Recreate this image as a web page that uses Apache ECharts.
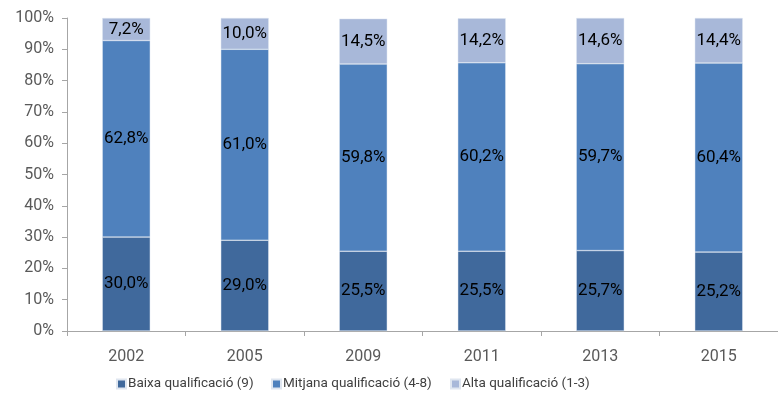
<!DOCTYPE html>
<html>
<head>
<meta charset="utf-8">
<script src="https://cdn.jsdelivr.net/npm/echarts@6/dist/echarts.min.js"></script>
<style>
  html, body { margin: 0; padding: 0; background: #fff; }
  #chart { width: 778px; height: 403px; }
</style>
</head>
<body>
<div id="chart"></div>
<script>
const years = ['2002', '2005', '2009', '2011', '2013', '2015']
const baixa = [30.0, 29.0, 25.5, 25.5, 25.7, 25.2]
const mitjana = [62.8, 61.0, 59.8, 60.2, 59.7, 60.4]
const alta = [7.2, 10.0, 14.5, 14.2, 14.6, 14.4]
const seriesNames = ['Baixa qualificació (9)', 'Mitjana qualificació (4-8)', 'Alta qualificació (1-3)']

const colors = {
  baixa: '#40699c',
  mitjana: '#4f81bd',
  alta: '#a8b8d9',
  axis: '#a6a6a6',
  text: '#595959'
}

const fmt = (p) => p.value.toFixed(1).replace('.', ',') + '%'

const makeSeries = (name, data, color) => ({
  name,
  type: 'bar',
  stack: 'total',
  barWidth: 48,
  data,
  itemStyle: { color, borderColor: '#dfe6f0', borderWidth: 0.5 },
  label: {
    show: true,
    position: 'inside',
    color: '#000',
    fontFamily: 'Roboto',
    fontSize: 17,
    formatter: fmt
  }
})

// one legend per entry so the spacing can follow the original
const legendLeft = [111, 266, 445]
const legends = seriesNames.map((name, i) => ({
  data: [name],
  top: 372,
  left: legendLeft[i],
  itemWidth: 9,
  itemHeight: 9,
  icon: 'rect',
  textStyle: { color: '#404040', fontFamily: 'Roboto', fontSize: 13.5, padding: [0, 0, 0, -3] }
}))

const chart = echarts.init(document.getElementById('chart'))
chart.setOption({
  animation: false,
  // the category axis runs past the right edge in the original
  grid: { left: 67, right: -9, top: 18, bottom: 72, containLabel: false },
  legend: legends,
  xAxis: {
    type: 'category',
    data: years,
    axisLine: { lineStyle: { color: colors.axis } },
    axisTick: { show: true, alignWithLabel: false, length: 5, lineStyle: { color: colors.axis } },
    axisLabel: { color: colors.text, fontFamily: 'Roboto', fontSize: 16, margin: 18 }
  },
  yAxis: {
    type: 'value',
    min: 0,
    max: 100,
    interval: 10,
    axisLine: { show: true, lineStyle: { color: colors.axis } },
    axisTick: { show: true, length: 5, lineStyle: { color: colors.axis } },
    splitLine: { show: false },
    axisLabel: { color: colors.text, fontFamily: 'Roboto', fontSize: 16, margin: 13, formatter: '{value}%' }
  },
  series: [
    makeSeries(seriesNames[0], baixa, colors.baixa),
    makeSeries(seriesNames[1], mitjana, colors.mitjana),
    makeSeries(seriesNames[2], alta, colors.alta)
  ]
})
</script>
</body>
</html>
